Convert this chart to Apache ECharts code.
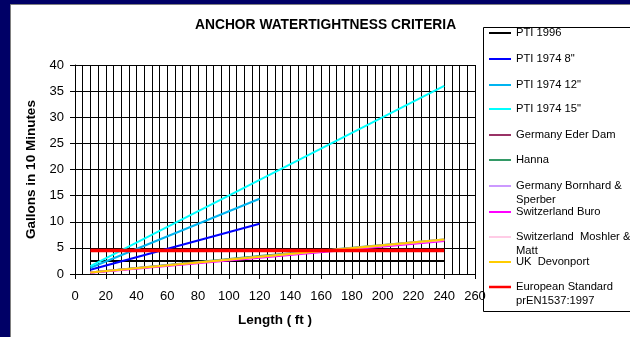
<!DOCTYPE html>
<html><head><meta charset="utf-8">
<script src="https://cdn.jsdelivr.net/npm/echarts@6/dist/echarts.min.js"></script>
<style>html,body{margin:0;padding:0;background:#000066;}#c{width:630px;height:337px;}</style>
</head><body><div id="c"></div>
<script>
// ---- data ----
const xTicks = [0, 20, 40, 60, 80, 100, 120, 140, 160, 180, 200, 220, 240, 260];
const yTicks = [0, 5, 10, 15, 20, 25, 30, 35, 40];
const lengthsLong = [10, 120, 240];
const lengthsShort = [10, 120];
const pti1996 = [2.5, 2.5, 2.5];
const pti1974_8 = [0.8, 9.6];
const pti1974_12 = [1.2, 14.4];
const pti1974_15 = [1.5, 18.0, 36.0];
const ederDam = [0.3, 3.3, 6.5];
const hanna = [0.3, 3.45, 6.6];
const bornhard = [0.3, 3.3, 6.6];
const buro = [0.25, 3.1, 6.3];
const moshler = [0.25, 3.2, 6.4];
const devonport = [0.3, 3.3, 6.6];
const european = [4.5, 4.5, 4.5];
const seriesNames = ['PTI 1996', 'PTI 1974 8"', 'PTI 1974 12"', 'PTI 1974 15"', 'Germany Eder Dam', 'Hanna',
  'Germany Bornhard & Sperber', 'Switzerland Buro', 'Switzerland Moshler & Matt', 'UK Devonport',
  'European Standard prEN1537:1997'];
const legendLabels = ['PTI 1996', 'PTI 1974 8"', 'PTI 1974 12"', 'PTI 1974 15"', 'Germany Eder Dam', 'Hanna',
  'Germany Bornhard &\nSperber', 'Switzerland Buro', 'Switzerland  Moshler &\nMatt', 'UK  Devonport',
  'European Standard\nprEN1537:1997'];

// ---- styles ----
const FONT = 'Liberation Sans, Arial, sans-serif';
const colors = ['#000000', '#0000FF', '#00B4F0', '#00FFFF', '#993366', '#339966', '#CC99FF', '#FF00FF', '#FF99CC', '#FFCC00', '#FF0000'];
const widths = [2, 2, 2, 2, 2, 2, 2, 2, 1, 2, 3.5];
const legendIconH = [2, 2, 2, 2, 2, 2, 2, 2, 1, 2, 2.5];
const legendY = [33, 59, 85, 109, 135, 160, 186, 212, 237, 262, 287];

const seriesData = [
  [lengthsLong, pti1996], [lengthsShort, pti1974_8], [lengthsShort, pti1974_12], [lengthsLong, pti1974_15],
  [lengthsLong, ederDam], [lengthsLong, hanna], [lengthsLong, bornhard], [lengthsLong, buro],
  [lengthsLong, moshler], [lengthsLong, devonport], [lengthsLong, european]
];

const series = seriesData.map(([xs, ys], i) => ({
  name: seriesNames[i], type: 'line', symbol: 'none', silent: true,
  data: xs.map((x, j) => [x, ys[j]]),
  lineStyle: { color: colors[i], width: widths[i] },
  itemStyle: { color: colors[i] }
}));

const legends = seriesNames.map((n, i) => {
  const multi = legendLabels[i].indexOf('\n') >= 0;
  const h = legendIconH[i];
  return {
    data: [{ name: n, icon: 'path://M0,0L22,0L22,' + h + 'L0,' + h + 'Z', itemStyle: { color: colors[i], borderWidth: 0 } }],
    orient: 'vertical', left: 489, top: legendY[i] - (multi ? 21 : 7), padding: 0,
    itemWidth: 22, itemHeight: 14, selectedMode: false,
    formatter: () => multi ? '\n' + legendLabels[i] : legendLabels[i],
    textStyle: { fontSize: 11.2, fontFamily: FONT, color: '#000', lineHeight: 14 }
  };
});

const chart = echarts.init(document.getElementById('c'));
chart.setOption({
  animation: false,
  backgroundColor: '#000066',
  graphic: [
    { type: 'rect', z: -10, shape: { x: 10.5, y: 4.5, width: 640, height: 350 }, style: { fill: '#fff', stroke: '#808080', lineWidth: 1 } },
    { type: 'rect', z: -5, shape: { x: 483.5, y: 27.5, width: 160, height: 284 }, style: { fill: '#fff', stroke: '#000', lineWidth: 1 } }
  ],
  title: {
    text: 'ANCHOR WATERTIGHTNESS CRITERIA', left: 195, top: 18, padding: 0,
    textStyle: { fontSize: 13.8, fontWeight: 'bold', fontFamily: FONT, color: '#000' }
  },
  legend: legends,
  grid: { left: 75, right: 155, top: 65, bottom: 63, containLabel: false },
  xAxis: {
    type: 'value', min: xTicks[0], max: xTicks[xTicks.length - 1], interval: xTicks[1] - xTicks[0],
    axisLine: { show: true, onZero: false, lineStyle: { color: '#000', width: 1 } },
    axisTick: { show: true, length: 5, lineStyle: { color: '#000' } },
    axisLabel: { color: '#000', fontSize: 13, fontFamily: FONT, margin: 16 },
    splitLine: { show: true, lineStyle: { color: '#000', width: 1 } },
    minorTick: { show: false, splitNumber: 4 },
    minorSplitLine: { show: true, lineStyle: { color: '#000', width: 1 } },
    name: 'Length ( ft )', nameLocation: 'middle', nameGap: 39,
    nameTextStyle: { fontWeight: 'bold', fontSize: 13.5, fontFamily: FONT, color: '#000' }
  },
  yAxis: {
    type: 'value', min: yTicks[0], max: yTicks[yTicks.length - 1], interval: yTicks[1] - yTicks[0],
    axisLine: { show: true, lineStyle: { color: '#000', width: 1 } },
    axisTick: { show: true, length: 5, lineStyle: { color: '#000' } },
    axisLabel: { color: '#000', fontSize: 13, fontFamily: FONT, margin: 11 },
    splitLine: { show: true, lineStyle: { color: '#000', width: 1 } },
    name: 'Gallons in 10 Minutes', nameLocation: 'middle', nameGap: 34,
    nameTextStyle: { fontWeight: 'bold', fontSize: 13.5, fontFamily: FONT, color: '#000' }
  },
  series: series
});
</script></body></html>
